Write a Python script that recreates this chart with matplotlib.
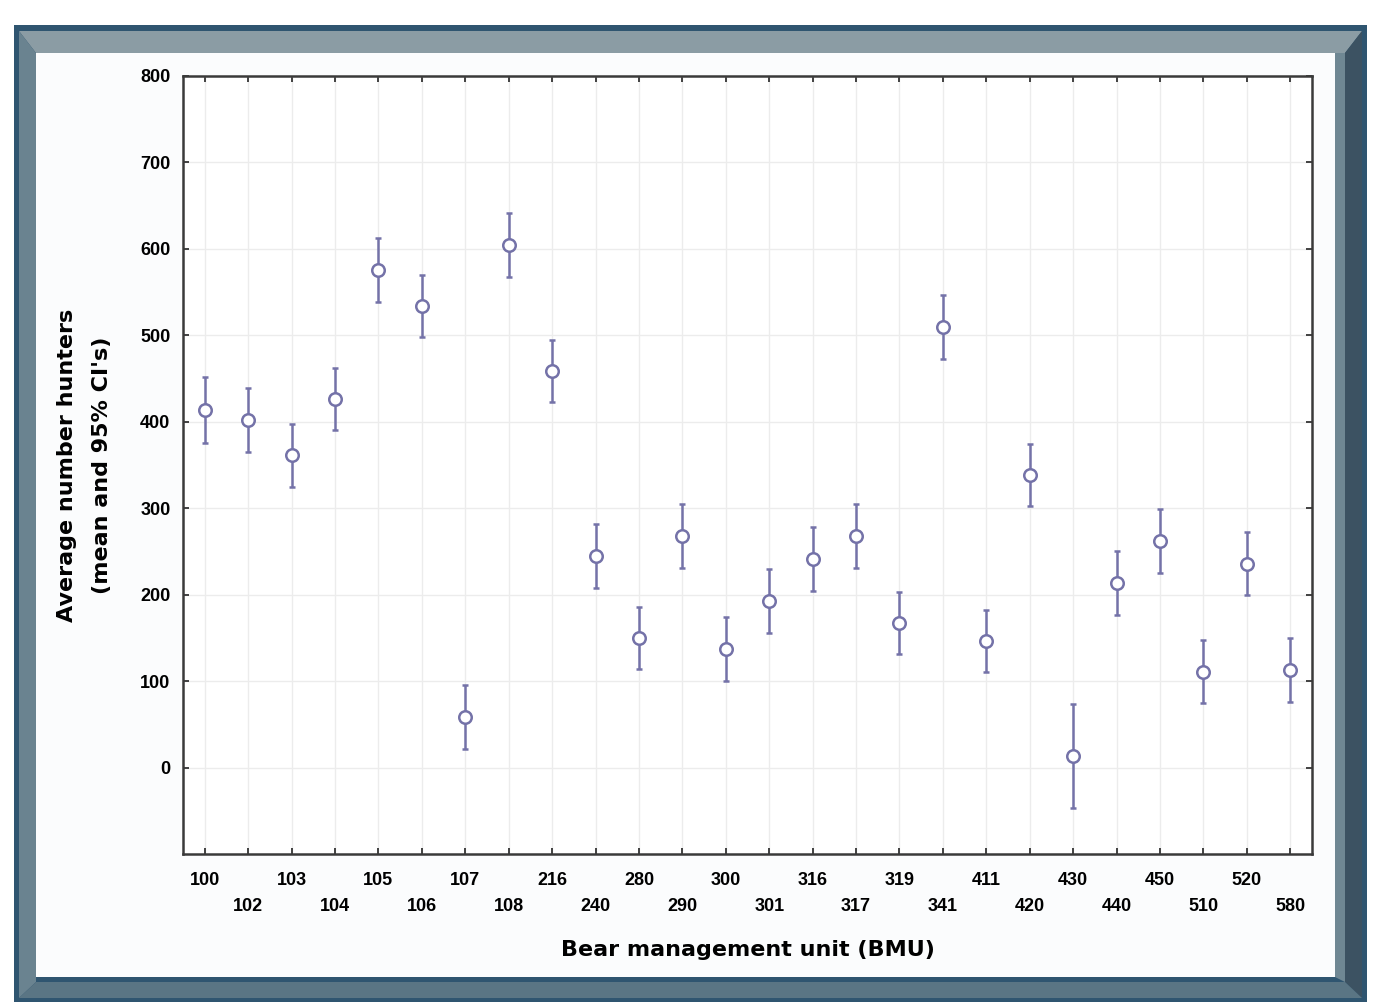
import numpy as np
import matplotlib
matplotlib.use("Agg")
import matplotlib.pyplot as plt
from matplotlib.patches import Polygon

# Bear management units and mean hunters with 95% CI half-widths
bmu = ["100", "102", "103", "104", "105", "106", "107", "108", "216", "240",
       "280", "290", "300", "301", "316", "317", "319", "341", "411", "420",
       "430", "440", "450", "510", "520", "580"]
means = [414, 402, 361, 426, 576, 534, 59, 605, 459, 245,
         150, 268, 137, 193, 241, 268, 167, 510, 146, 338,
         13, 213, 262, 111, 236, 113]
ci = [38, 37, 37, 36, 37, 36, 37, 37, 36, 37,
      36, 37, 37, 37, 37, 37, 36, 37, 36, 36,
      60, 37, 37, 36, 36, 37]
yticks = [0, 100, 200, 300, 400, 500, 600, 700, 800]

plt.rcParams['font.family'] = ['Liberation Sans', 'DejaVu Sans']

W, H = 1375, 1002
fig = plt.figure(figsize=(W / 100, H / 100), dpi=100)
fig.patch.set_facecolor("white")

def fx(px):
    return px / W

def fy(py):
    return 1 - py / H

def add_poly(pts, color):
    fig.patches.append(Polygon([(fx(a), fy(b)) for a, b in pts], closed=True,
                               transform=fig.transFigure, facecolor=color,
                               edgecolor="none", zorder=-10))

# bevelled picture frame
x0, y0, x1, y1 = 14, 25, 1367, 1002
add_poly([(x0, y0), (x1, y0), (x1, y1), (x0, y1)], "#2f5570")
add_poly([(x0 + 5, y0 + 6), (x1 - 5, y0 + 6), (x1 - 22, y0 + 28), (x0 + 22, y0 + 28)], "#8b9ca4")
add_poly([(x0 + 5, y0 + 6), (x0 + 22, y0 + 28), (x0 + 22, y1 - 20), (x0 + 5, y1 - 4)], "#6a8390")
add_poly([(x1 - 5, y0 + 6), (x1 - 22, y0 + 28), (x1 - 22, y1 - 20), (x1 - 5, y1 - 4)], "#3c5262")
add_poly([(x1 - 22, y0 + 28), (x1 - 32, y0 + 28), (x1 - 32, y1 - 25), (x1 - 22, y1 - 20)], "#6f8793")
add_poly([(x0 + 22, y1 - 20), (x1 - 22, y1 - 20), (x1 - 5, y1 - 4), (x0 + 5, y1 - 4)], "#5a7584")
add_poly([(x0 + 22, y0 + 28), (x1 - 32, y0 + 28), (x1 - 32, y1 - 25), (x0 + 22, y1 - 25)], "#fbfcfd")

ax = fig.add_axes([fx(183), fy(854), fx(1312 - 183), fy(76) - fy(854)])
ax.set_facecolor("white")

x = np.arange(len(bmu))
col = "#7472a8"
ax.errorbar(x, means, yerr=ci, fmt="o", color=col, ecolor=col, elinewidth=1.8,
            capsize=2, capthick=1.8, markersize=9, markerfacecolor="white",
            markeredgecolor=col, markeredgewidth=1.8, zorder=3)

ax.set_xlim(-0.5, len(bmu) - 0.5)
ax.set_ylim(-100, 800)
ax.set_yticks(yticks)
ax.set_yticklabels([str(v) for v in yticks], fontweight="bold", fontsize=13)
ax.set_xticks(x)
labels = [lab if i % 2 == 0 else "\n" + lab for i, lab in enumerate(bmu)]
ax.set_xticklabels(labels, fontweight="bold", fontsize=13, linespacing=1.7)

ax.grid(True, color="#ececec", linewidth=1.0)
ax.set_axisbelow(True)
ax.tick_params(direction="in", length=4, width=1.3, color="#333333",
               top=True, right=True, labeltop=False, labelright=False)
ax.tick_params(axis="x", pad=13)
ax.tick_params(axis="y", pad=9)
for s in ax.spines.values():
    s.set_linewidth(1.8)
    s.set_color("#3a3a3a")

ax.set_xlabel("Bear management unit (BMU)", fontsize=16, fontweight="bold",
              family=["DejaVu Sans"], labelpad=18)
ax.set_ylabel("Average number hunters\n(mean and 95% CI's)", fontsize=16,
              fontweight="bold", family=["DejaVu Sans"], linespacing=1.95,
              labelpad=20)

fig.savefig("out.png", dpi=100)
